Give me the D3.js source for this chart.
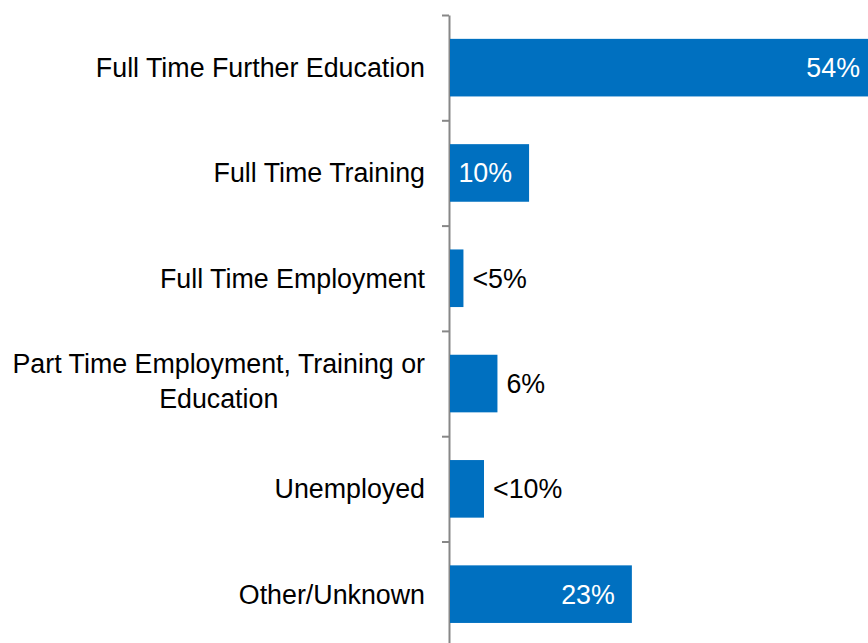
<!DOCTYPE html>
<html>
<head>
<meta charset="utf-8">
<script src="https://cdn.jsdelivr.net/npm/d3@7"></script>
<style>
  html, body { margin: 0; padding: 0; background: #fff; }
  svg { display: block; font-family: "Liberation Sans", Arial, sans-serif; }
</style>
</head>
<body>
<svg id="chart" width="868" height="643"></svg>
<script>
// Destinations of leavers (share of cohort)
const categories = [
  "Full Time Further Education",
  "Full Time Training",
  "Full Time Employment",
  "Part Time Employment, Training or Education",
  "Unemployed",
  "Other/Unknown"
];
// Two-line wrapping for the long category name
const categoryLines = [
  ["Full Time Further Education"],
  ["Full Time Training"],
  ["Full Time Employment"],
  ["Part Time Employment, Training or", "Education"],
  ["Unemployed"],
  ["Other/Unknown"]
];
const values = [54, 10, 1.7, 6, 4.3, 23];
const valueLabels = ["54%", "10%", "<5%", "6%", "<10%", "23%"];
const labelInside = [true, true, false, false, false, true];

const svg = d3.select("#chart");
const axisX = 449;
const plotTop = 15, step = 105.3;
const pad = 0.453;

const y = d3.scaleBand()
  .domain(categories)
  .range([plotTop, plotTop + step * categories.length])
  .paddingInner(pad)
  .paddingOuter(pad / 2);

const x = d3.scaleLinear().domain([0, 54]).range([450, 877]);

// Category axis with ticks on the band boundaries
const yIdx = d3.scaleLinear().domain([0, categories.length]).range(y.range());
const axis = svg.append("g")
  .attr("transform", `translate(${axisX},0)`)
  .call(d3.axisLeft(yIdx).ticks(categories.length).tickSize(7).tickSizeOuter(0).tickFormat(""));
axis.select(".domain").attr("stroke", "#878787").attr("stroke-width", 2);
axis.selectAll(".tick line").attr("stroke", "#878787").attr("stroke-width", 2);

// Bars
svg.append("g").selectAll("rect")
  .data(categories)
  .join("rect")
  .attr("x", x(0))
  .attr("y", d => y(d))
  .attr("width", (d, i) => x(values[i]) - x(0))
  .attr("height", y.bandwidth())
  .attr("fill", "#0070c0");

// Category labels
const fs = 26.8;
const lab = svg.append("g").attr("font-size", fs).attr("fill", "#000");
categories.forEach((c, i) => {
  const lines = categoryLines[i];
  const cy = y(c) + y.bandwidth() / 2;
  const lh = 35;
  const t0 = cy - (lines.length - 1) * lh / 2 - (lines.length > 1 ? 2 : 0);
  const first = lab.append("text")
    .attr("x", 425).attr("y", t0)
    .attr("dy", "0.35em")
    .attr("text-anchor", "end")
    .text(lines[0]);
  if (lines.length > 1) {
    const w = first.node().getComputedTextLength();
    lines.slice(1).forEach((ln, k) => {
      lab.append("text")
        .attr("x", 425 - w / 2).attr("y", t0 + (k + 1) * lh)
        .attr("dy", "0.35em")
        .attr("text-anchor", "middle")
        .text(ln);
    });
  }
});

// Value labels
svg.append("g").attr("font-size", fs).selectAll("text")
  .data(categories)
  .join("text")
  .attr("x", (d, i) => labelInside[i] ? x(values[i]) - 17 : x(values[i]) + 9)
  .attr("y", d => y(d) + y.bandwidth() / 2)
  .attr("dy", "0.35em")
  .attr("text-anchor", (d, i) => labelInside[i] ? "end" : "start")
  .attr("fill", (d, i) => labelInside[i] ? "#fff" : "#000")
  .text((d, i) => valueLabels[i]);
</script>
</body>
</html>
